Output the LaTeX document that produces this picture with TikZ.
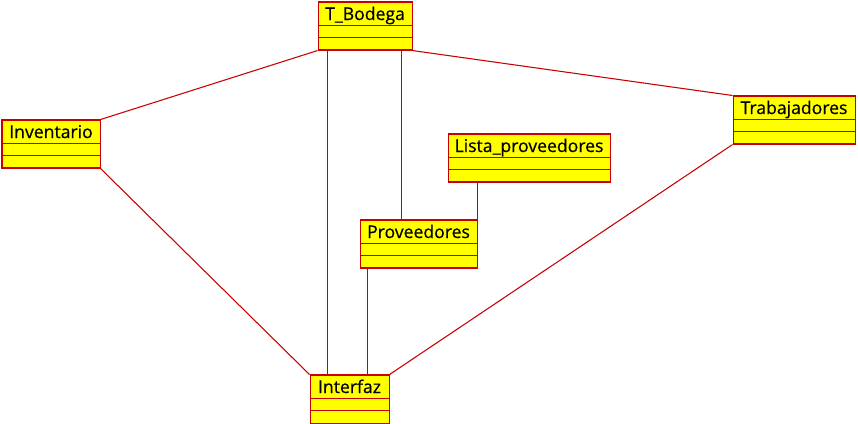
\documentclass[tikz,border=0pt]{standalone}
\usepackage{fontspec}
\setmainfont{Open Sans}[UprightFeatures={FakeBold=0.5}]
\usetikzlibrary{positioning}
\definecolor{umlred}{RGB}{200,0,0}
\definecolor{umlyellow}{RGB}{255,255,0}

\begin{document}
\begin{tikzpicture}[
  x=0.75pt,y=-0.75pt,
  umlclass/.style={draw=umlred,fill=umlyellow,line width=0.8pt,anchor=north west,inner sep=0pt,text height=13.5pt,text depth=22.5pt,align=center,font=\fontsize{13.2}{15}\selectfont},
  link/.style={draw=umlred,line width=0.8pt}
]
\useasboundingbox (0,0) rectangle (858,424);
\node[umlclass,minimum width=70.5pt] (bodega) at (317.5,1.5) {T\_Bodega};
\node[umlclass,minimum width=73.5pt] (inventario) at (1.5,119.5) {Inventario};
\node[umlclass,minimum width=91.5pt] (trabajadores) at (732.5,95.5) {Trabajadores};
\node[umlclass,minimum width=121.5pt] (lista) at (447.5,133.5) {Lista\_proveedores};
\node[umlclass,minimum width=87.75pt] (proveedores) at (359.5,219.5) {Proveedores};
\node[umlclass,minimum width=59.25pt] (interfaz) at (309.5,374.5) {Interfaz};
\foreach \n in {bodega,inventario,trabajadores,lista,proveedores,interfaz}{
  \draw[link] ([yshift=-18pt]\n.north west) -- ([yshift=-18pt]\n.north east);
  \draw[link] ([yshift=-27pt]\n.north west) -- ([yshift=-27pt]\n.north east);
}
\draw[link] (bodega.south west) -- (inventario.north east);
\draw[link] (bodega.south east) -- (trabajadores.north west);
\draw[link] ([xshift=7.5pt]bodega.south west) -- ([xshift=7.5pt]bodega.south west |- interfaz.north);
\draw[link] ([xshift=-8.25pt]bodega.south east) -- ([xshift=-8.25pt]bodega.south east |- proveedores.north);
\draw[link] (proveedores.north east |- lista.south) -- (proveedores.north east);
\draw[link] ([xshift=6pt]proveedores.south west) -- ([xshift=6pt]proveedores.south west |- interfaz.north);
\draw[link] (inventario.south east) -- (interfaz.north west);
\draw[link] (trabajadores.south west) -- (interfaz.north east);
\end{tikzpicture}
\end{document}
